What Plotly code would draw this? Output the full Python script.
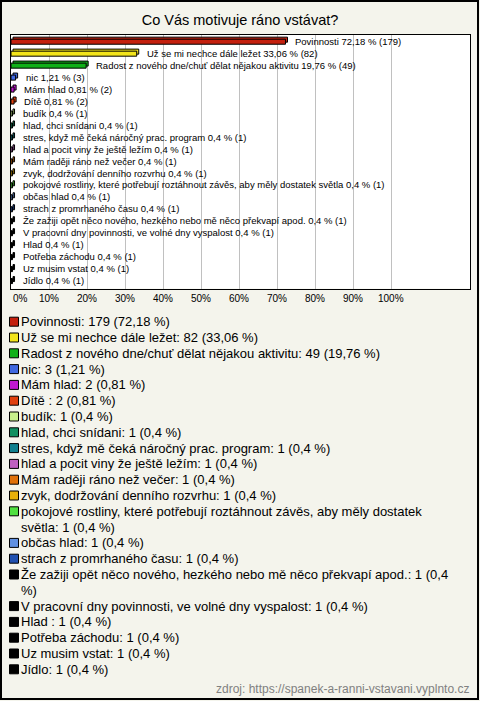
import plotly.graph_objects as go

# ---------------- data ----------------
title_text = "Co Vás motivuje ráno vstávat?"
categories = [
    "Povinnosti",
    "Už se mi nechce dále ležet",
    "Radost z nového dne/chuť dělat nějakou aktivitu",
    "nic",
    "Mám hlad",
    "Dítě ",
    "budík",
    "hlad, chci snídani",
    "stres, když mě čeká náročný prac. program",
    "hlad a pocit viny že ještě ležím",
    "Mám raději ráno než večer",
    "zvyk, dodržování denního rozvrhu",
    "pokojové rostliny, které potřebují roztáhnout závěs, aby měly dostatek světla",
    "občas hlad",
    "strach z promrhaného času",
    "Že zažiji opět něco nového, hezkého nebo mě něco překvapí apod.",
    "V pracovní dny povinnosti, ve volné dny vyspalost",
    "Hlad ",
    "Potřeba záchodu",
    "Uz musim vstat",
    "Jídlo",
]
counts = [179, 82, 49, 3, 2, 2, 1, 1, 1, 1, 1, 1, 1, 1, 1, 1, 1, 1, 1, 1, 1]
percents = [72.18, 33.06, 19.76, 1.21, 0.81, 0.81, 0.4, 0.4, 0.4, 0.4, 0.4,
            0.4, 0.4, 0.4, 0.4, 0.4, 0.4, 0.4, 0.4, 0.4, 0.4]
colors = [
    "#c4200e", "#f2e41a", "#10b018", "#4068e0", "#c018d0", "#e0400e",
    "#c8f08c", "#109060", "#10808e", "#c060c0", "#e07008", "#e8b008",
    "#50e040", "#6090e0", "#2050b0",
    "#000000", "#000000", "#000000", "#000000", "#000000", "#000000",
]
tick_values = [0, 10, 20, 30, 40, 50, 60, 70, 80, 90, 100]
tick_labels = ["0%", "10%", "20%", "30%", "40%", "50%",
               "60%", "70%", "80%", "90%", "100%"]
source_text = "zdroj: https://spanek-a-ranni-vstavani.vyplnto.cz"

# ---------------- layout helpers ----------------
W, H = 480, 701
FONT = "Liberation Sans, Arial, sans-serif"
BG = "#f4f4ec"


def px(x):
    return x / W


def py(y):
    return 1 - y / H


def fmt(v):
    return f"{v:g}".replace(".", ",")


def wrap(text, limit=73):
    lines = []
    while len(text) > limit:
        cut = text.rfind(" ", 0, limit + 1)
        if cut <= 0:
            break
        lines.append(text[:cut])
        text = text[cut + 1:]
    lines.append(text)
    return lines


X_MAX = 120.7
depth_x = 0.53
bar_w = 0.42
depth_y = 0.17

fig = go.Figure()

# depth (back) layer of the 3D bars
fig.add_trace(go.Bar(
    x=percents, y=categories, base=depth_x, orientation="h",
    width=bar_w, offset=-bar_w / 2 - depth_y + 0.03,
    marker=dict(color=colors, line=dict(color="#000000", width=1)),
    hoverinfo="skip", showlegend=False,
))
# front layer
fig.add_trace(go.Bar(
    x=percents, y=categories, orientation="h",
    width=bar_w, offset=-bar_w / 2 + 0.03,
    marker=dict(color=colors, line=dict(color="#000000", width=1)),
    hoverinfo="skip", showlegend=False,
))

annotations = []
shapes = []

# bar labels
for cat, p, c in zip(categories, percents, counts):
    annotations.append(dict(
        x=p, y=cat, xref="x", yref="y", xanchor="left", yanchor="middle",
        xshift=8, showarrow=False,
        text=f"{cat.strip()} {fmt(p)} % ({c})",
        font=dict(family=FONT, size=9.5, color="#000000"),
    ))

# x tick labels (first one is left-aligned at the axis start, the rest centred)
for i, (tv, tl) in enumerate(zip(tick_values, tick_labels)):
    annotations.append(dict(
        x=tv, y=py(298), xref="x", yref="paper",
        xanchor="left" if i == 0 else "center", yanchor="middle",
        showarrow=False, text=tl,
        font=dict(family=FONT, size=10, color="#000000"),
    ))

# custom legend below the chart
y_line = 321.7
step = 15.8
for cat, p, c, col in zip(categories, percents, counts, colors):
    lines = wrap(f"{cat}: {c} ({fmt(p)} %)")
    shapes.append(dict(
        type="rect", xref="paper", yref="paper",
        x0=px(9.5), x1=px(18.5), y0=py(y_line - 4.5), y1=py(y_line + 4.5),
        fillcolor=col, line=dict(color="#000000", width=1),
    ))
    for ln in lines:
        annotations.append(dict(
            x=px(19), y=py(y_line), xref="paper", yref="paper",
            xanchor="left", yanchor="middle", showarrow=False, text=ln,
            font=dict(family=FONT, size=13, color="#000000"),
        ))
        y_line += step

# source
annotations.append(dict(
    x=px(471), y=py(689), xref="paper", yref="paper", xanchor="right",
    yanchor="middle", showarrow=False, text=source_text,
    font=dict(family=FONT, size=12, color="#808080"),
))

# outer frame
shapes.append(dict(
    type="rect", xref="paper", yref="paper", x0=px(1), x1=px(478),
    y0=py(699), y1=py(1), line=dict(color="#000000", width=2),
    fillcolor="rgba(0,0,0,0)", layer="above",
))

fig.update_layout(
    width=W, height=H, autosize=False,
    margin=dict(l=0, r=0, t=0, b=0, pad=0, autoexpand=False),
    paper_bgcolor=BG, plot_bgcolor="#ffffff",
    barmode="overlay",
    title=dict(text=title_text, x=0.5, xanchor="center", y=py(20),
               yanchor="middle", yref="container",
               font=dict(family=FONT, size=14.5, color="#000000")),
    xaxis=dict(
        domain=[px(11), px(470)], range=[0, X_MAX],
        tickvals=tick_values, showticklabels=False,
        showgrid=True, gridcolor="#c0c0c0", gridwidth=1, zeroline=False,
        showline=True, mirror=True, linecolor="#000000", linewidth=1,
        ticks="", automargin=False, fixedrange=True,
    ),
    yaxis=dict(
        domain=[py(288.5), py(35)], type="category",
        categoryorder="array", categoryarray=categories,
        range=[20.65, -0.53], showticklabels=False, showgrid=False,
        zeroline=False, showline=True, mirror=True, linecolor="#000000",
        linewidth=1, ticks="", automargin=False, fixedrange=True,
    ),
    annotations=annotations, shapes=shapes, showlegend=False,
)

fig.write_html(
    "out.html",
    config={"displayModeBar": False},
    post_script="document.body.style.margin='0';document.body.style.overflow='hidden';",
)
